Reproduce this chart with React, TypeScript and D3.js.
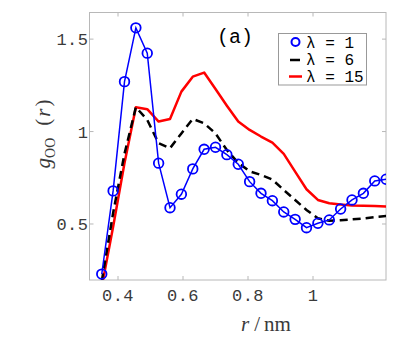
import React from 'react';
import * as d3 from 'd3';

// r values (nm) shared by all three curves
const rValues = [
  0.35, 0.385, 0.42, 0.455, 0.49, 0.525, 0.56, 0.595, 0.63, 0.665, 0.7, 0.735, 0.77,
  0.805, 0.84, 0.875, 0.91, 0.945, 0.98, 1.015, 1.05, 1.085, 1.12, 1.155, 1.19, 1.225,
];
const gLambda1 = [
  0.229, 0.679, 1.27, 1.561, 1.424, 0.829, 0.588, 0.661, 0.798, 0.904, 0.915, 0.875, 0.823,
  0.729, 0.666, 0.626, 0.565, 0.525, 0.48, 0.504, 0.522, 0.581, 0.63, 0.666, 0.733, 0.742,
];
const gLambda6 = [
  0.19, 0.56, 0.88, 1.132, 1.063, 0.937, 0.91, 0.99, 1.068, 1.045, 0.99, 0.9, 0.83,
  0.785, 0.765, 0.74, 0.684, 0.63, 0.576, 0.531, 0.517, 0.52, 0.525, 0.53, 0.537, 0.543,
];
const gLambda15 = [
  0.16, 0.485, 0.83, 1.132, 1.121, 1.054, 1.068, 1.216, 1.297, 1.319, 1.23, 1.14, 1.054,
  1.009, 0.973, 0.94, 0.879, 0.783, 0.688, 0.63, 0.612, 0.605, 0.6, 0.598, 0.597, 0.594,
];
const xTicks = [0.4, 0.6, 0.8, 1];
const yTicks = [0.5, 1, 1.5];
const legendLabels = ['λ = 1', 'λ = 6', 'λ = 15'];

const W = 407;
const H = 345;
const box = { left: 89.5, right: 386, top: 12.5, bottom: 280 };
const mono = '"Liberation Mono", "DejaVu Sans Mono", monospace';
const serif = '"Liberation Serif", "DejaVu Serif", serif';
const frameColor = '#b8b8b8';
const textColor = '#3a3a3a';

export default function App() {
  const x = d3.scaleLinear().domain([0.3123, 1.2246]).range([box.left, box.right]);
  const y = d3.scaleLinear().domain([0.197, 1.644]).range([box.bottom, box.top]);

  const line = (vals: number[]) =>
    d3
      .line<number>()
      .x((_, i) => x(rValues[i]))
      .y((v) => y(v))(vals) as string;

  const tickLen = 4;

  return (
    <svg
      width={W}
      height={H}
      style={{ position: 'absolute', left: 0, top: 0, background: '#fff' }}
    >
      <defs>
        <clipPath id="plotClip">
          <rect x={box.left} y={box.top} width={box.right - box.left} height={box.bottom - box.top} />
        </clipPath>
      </defs>

      {/* frame */}
      <rect
        x={box.left}
        y={box.top}
        width={box.right - box.left}
        height={box.bottom - box.top}
        fill="none"
        stroke={frameColor}
        strokeWidth={1}
      />

      {/* ticks, mirrored on all sides */}
      {xTicks.map((t) => (
        <g key={'xt' + t} stroke={frameColor} strokeWidth={1}>
          <line x1={x(t)} x2={x(t)} y1={box.bottom} y2={box.bottom - tickLen} />
          <line x1={x(t)} x2={x(t)} y1={box.top} y2={box.top + tickLen} />
        </g>
      ))}
      {yTicks.map((t) => (
        <g key={'yt' + t} stroke={frameColor} strokeWidth={1}>
          <line x1={box.left} x2={box.left + tickLen} y1={y(t)} y2={y(t)} />
          <line x1={box.right} x2={box.right - tickLen} y1={y(t)} y2={y(t)} />
        </g>
      ))}

      {/* tick labels */}
      {xTicks.map((t) => (
        <text
          key={'xl' + t}
          x={x(t)}
          y={301}
          textAnchor="middle"
          fontFamily={mono}
          fontSize={17}
          letterSpacing={0.5}
          fill={textColor}
        >
          {String(t)}
        </text>
      ))}
      {yTicks.map((t) => (
        <text
          key={'yl' + t}
          x={box.left - 1}
          y={y(t) + 6}
          textAnchor="end"
          fontFamily={mono}
          fontSize={17}
          letterSpacing={0.5}
          fill={textColor}
        >
          {String(t)}
        </text>
      ))}

      {/* curves */}
      <g clipPath="url(#plotClip)" fill="none">
        <path d={line(gLambda15)} stroke="#ff0000" strokeWidth={2.5} strokeLinejoin="round" />
        <path d={line(gLambda6)} stroke="#000" strokeWidth={2.5} strokeDasharray="8 5" />
        <path d={line(gLambda1)} stroke="#0000ff" strokeWidth={1.5} />
        {gLambda1.map((v, i) => (
          <circle key={i} cx={x(rValues[i])} cy={y(v)} r={4.8} stroke="#0000ff" strokeWidth={1.8} />
        ))}
      </g>

      {/* panel label */}
      <text x={235} y={43} textAnchor="middle" fontFamily={mono} fontSize={20} fill="#000">
        (a)
      </text>

      {/* legend */}
      <g>
        <rect x={278.5} y={33.5} width={88} height={51.5} fill="#fff" stroke="#999" strokeWidth={1} />
        <circle cx={295.5} cy={42} r={4} fill="none" stroke="#0000ff" strokeWidth={2} />
        <line x1={290} x2={300} y1={60} y2={60} stroke="#000" strokeWidth={2.5} />
        <line x1={289} x2={302} y1={76.5} y2={76.5} stroke="#ff0000" strokeWidth={2.5} />
        {legendLabels.map((s, i) => (
          <text
            key={s}
            x={306}
            y={47.5 + i * 17.3}
            fontFamily={mono}
            fontSize={16}
            fill="#000"
            style={{ whiteSpace: 'pre' }}
          >
            {s}
          </text>
        ))}
      </g>

      {/* axis titles */}
      <text x={266} y={331} textAnchor="middle" fontFamily={serif} fontSize={21} fill={textColor}>
        <tspan fontStyle="italic">r</tspan>
        <tspan dx={5}>/</tspan>
        <tspan dx={4}>nm</tspan>
      </text>
      <text
        transform="translate(50,134) rotate(-90)"
        textAnchor="middle"
        fontFamily={serif}
        fontSize={21}
        fill={textColor}
      >
        <tspan fontStyle="italic">g</tspan>
        <tspan fontSize={14} dy={5}>OO</tspan>
        <tspan dy={-5} dx={12}>(</tspan>
        <tspan fontStyle="italic" dx={2}>r</tspan>
        <tspan dx={2}>)</tspan>
      </text>
    </svg>
  );
}
